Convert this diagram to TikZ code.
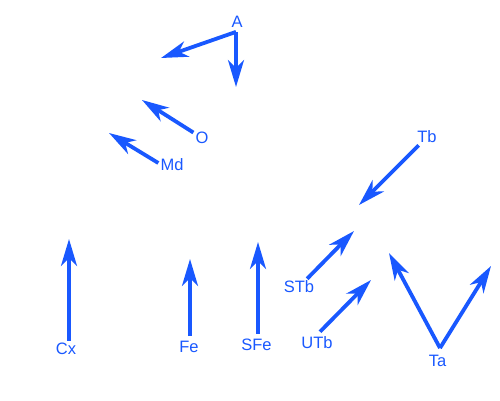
\documentclass[tikz,border=0pt]{standalone}
\usepackage{fontspec}
\setmainfont{Liberation Sans}
\usetikzlibrary{arrows.meta}
\definecolor{arrblue}{RGB}{25,88,255}
\begin{document}
\begin{tikzpicture}[x=1pt,y=-1pt,
  lbl/.style={text=arrblue,font=\fontsize{16.5}{19}\selectfont,inner sep=2pt},
  arr/.style={draw=arrblue,line width=3.8pt,-{Stealth[length=27pt,width=16pt,inset=8pt]}}]
\useasboundingbox (0,0) rectangle (500,400);
% labels
\node[lbl] (A) at (237,22) {A};
\node[lbl] (O) at (202,138) {O};
\node[lbl] (Md) at (172,165) {Md};
\node[lbl] (Tb) at (427,137) {Tb};
\node[lbl] (STb) at (299,287) {STb};
\node[lbl] (UTb) at (317,343) {UTb};
\node[lbl] (Ta) at (437.5,361) {Ta};
\node[lbl] (Cx) at (66,349) {Cx};
\node[lbl] (Fe) at (189,347) {Fe};
\node[lbl] (SFe) at (256.5,345) {SFe};
% free ends
\coordinate (a1) at (161,58);
\coordinate (a2) at (236,87);
\coordinate (o1) at (142,100);
\coordinate (md1) at (109,133);
\coordinate (tb1) at (359,205);
\coordinate (stb1) at (354,231);
\coordinate (utb1) at (371,280);
\coordinate (ta1) at (389,253);
\coordinate (ta2) at (491,266);
\coordinate (cx1) at (69,239);
\coordinate (fe1) at (190,259);
\coordinate (sfe1) at (258,242);
% arrows
\draw[arr] ([xshift=-1pt,yshift=-2pt]A.south) -- (a1);
\draw[arr] ([xshift=-1pt,yshift=-2pt]A.south) -- (a2);
\draw[arr] (O) -- (o1);
\draw[arr] ([yshift=2pt]Md.west) -- (md1);
\draw[arr] (Tb) -- (tb1);
\draw[arr] (STb) -- (stb1);
\draw[arr] ([xshift=3pt,yshift=3pt]UTb.north) -- (utb1);
\draw[arr] ([xshift=2.5pt,yshift=5pt]Ta.north) -- (ta1);
\draw[arr] ([xshift=2.5pt,yshift=5pt]Ta.north) -- (ta2);
\draw[arr] ([xshift=3pt]Cx.north) -- (cx1);
\draw[arr] ([xshift=1pt,yshift=3pt]Fe.north) -- (fe1);
\draw[arr] ([xshift=1.5pt,yshift=3pt]SFe.north) -- (sfe1);
\end{tikzpicture}
\end{document}
